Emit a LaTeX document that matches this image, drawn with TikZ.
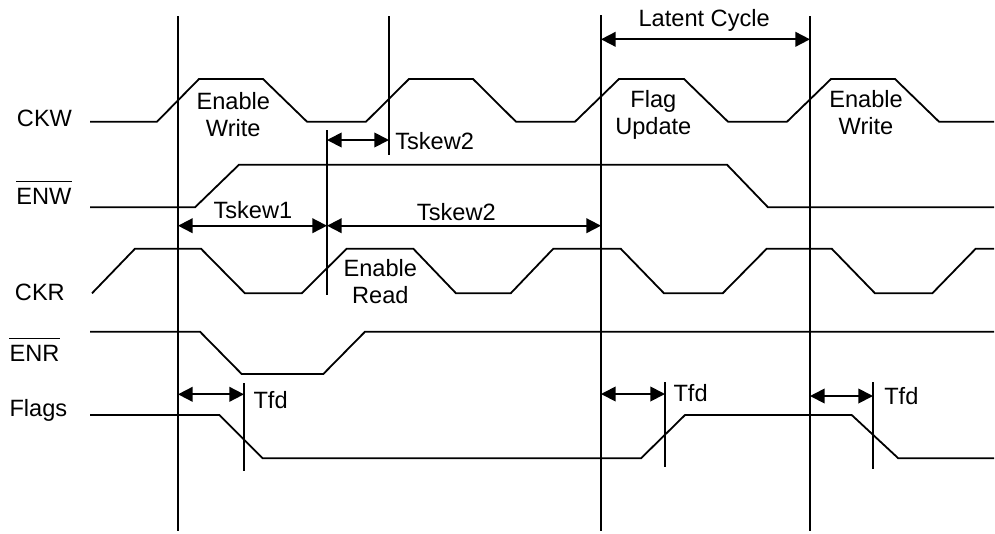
\documentclass[tikz,border=0pt]{standalone}
\usepackage{fontspec}
\setmainfont{Liberation Sans}
\usetikzlibrary{arrows.meta}
\begin{document}
\begin{tikzpicture}[x=0.75pt,y=-0.75pt,
  wave/.style={line width=1.35pt, line join=miter},
  marker/.style={line width=1.35pt},
  dim/.style={line width=1.35pt, {Triangle[length=11pt,width=11pt]}-{Triangle[length=11pt,width=11pt]}},
  lbl/.style={inner sep=0pt, font=\fontsize{17.7}{20}\selectfont},
  sig/.style={lbl, anchor=base west},
  two/.style={lbl, anchor=north, align=center},
  bar/.style={line width=0.9pt}
]
\useasboundingbox (0,0) rectangle (995,533);

% vertical reference lines
\coordinate (v1t) at (178,16);   \coordinate (v1b) at (178,531);
\coordinate (v2t) at (327,130);  \coordinate (v2b) at (327,295);
\coordinate (v3t) at (389,16);   \coordinate (v3b) at (389,155);
\coordinate (v4t) at (601,15);   \coordinate (v4b) at (601,531);
\coordinate (v5t) at (810,16);   \coordinate (v5b) at (810,531);
\coordinate (t1t) at (244,383);  \coordinate (t1b) at (244,471);
\coordinate (t2t) at (665,382);  \coordinate (t2b) at (665,467);
\coordinate (t3t) at (873,382);  \coordinate (t3b) at (873,469);
\foreach \n in {v1,v2,v3,v4,v5,t1,t2,t3}
  \draw[marker] (\n t) -- (\n b);

% waveforms
\draw[wave] (90,121.7)--(157,121.7)--(199,79)--(263,79)--(307,121.7)--(366,121.7)--(409,79)--(473,79)--(516,121.7)--(575,121.7)--(619,79)--(684,79)--(728,121.7)--(787,121.7)--(831,79)--(895,79)--(939,121.7)--(994,121.7);
\draw[wave] (90,207.3)--(195,207.3)--(239,164.7)--(727,164.7)--(768,207.3)--(994,207.3);
\draw[wave] (92,293.3)--(135,248.7)--(201,248.7)--(245,293.3)--(301.7,293.3)--(346.7,248.7)--(413.3,248.7)--(456,293.3)--(510.7,293.3)--(553.3,248.7)--(620.7,248.7)--(664,293.3)--(722.7,293.3)--(766.7,248.7)--(831.7,248.7)--(875,293.3)--(932.3,293.3)--(975.7,248.7)--(994,248.7);
\draw[wave] (90,331.7)--(200,331.7)--(241.7,374)--(323.3,374)--(365,331.7)--(994,331.7);
\draw[wave] (90,415)--(219.3,415)--(262.7,458.3)--(641,458.3)--(685,415)--(851.7,415)--(898.3,458.3)--(994,458.3);

% dimension arrows
\coordinate (lcA) at (601,39.3);   \coordinate (lcB) at (810,39.3);
\coordinate (s2A) at (327,140);    \coordinate (s2B) at (389,140);
\coordinate (s1A) at (178,225.7);  \coordinate (s1B) at (327,225.7);
\coordinate (s3A) at (327,225.7);  \coordinate (s3B) at (601,225.7);
\coordinate (f1A) at (178,394.3);  \coordinate (f1B) at (244,394.3);
\coordinate (f2A) at (601,394);    \coordinate (f2B) at (665,394);
\coordinate (f3A) at (810,396);    \coordinate (f3B) at (873,396);
\foreach \n in {lc,s2,s1,s3,f1,f2,f3}
  \draw[dim] (\n A) -- (\n B);

% dimension labels
\node[sig] (lLC) at (638.3,26) {Latent Cycle};
\node[sig] (lS2a) at (395,149.3) {Tskew2};
\node[sig] (lS1) at (213.3,218.3) {Tskew1};
\node[sig] (lS2b) at (416.7,220) {Tskew2};
\node[sig] (lF1) at (253.3,408.3) {Tfd};
\node[sig] (lF2) at (673.3,401) {Tfd};
\node[sig] (lF3) at (884,404) {Tfd};

% signal names
\node[sig] (ckw) at (16.7,126) {CKW};
\node[sig] (enw) at (16,204.3) {ENW};
\node[sig] (ckr) at (14.7,300) {CKR};
\node[sig] (enr) at (9.3,361.7) {ENR};
\node[sig] (flags) at (9.3,416) {Flags};
\draw[bar] ([yshift=5pt]enw.north west) -- ([yshift=5pt]enw.north east);
\draw[bar] ([yshift=5pt]enr.north west) -- ([yshift=5pt]enr.north east);

% phase labels
\node[two] (ew1) at (233.3,92.4) {Enable\\Write};
\node[two] (fu) at (653.3,90.4) {Flag\\Update};
\node[two] (ew2) at (866,90.4) {Enable\\Write};
\node[two] (er) at (380.3,259.1) {Enable\\Read};
\end{tikzpicture}
\end{document}
